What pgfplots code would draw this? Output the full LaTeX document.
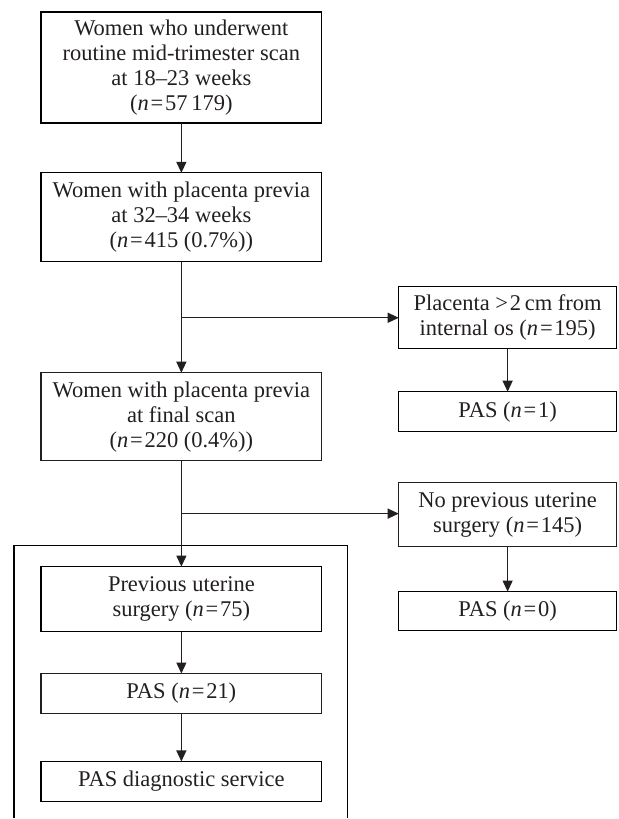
\documentclass[border=0pt]{standalone}
\usepackage{fontspec}
\setmainfont{Liberation Serif}
\usepackage{pgfplots}
\pgfplotsset{compat=1.18}
\usetikzlibrary{arrows.meta}
\definecolor{ink}{HTML}{231F20}
\newcommand{\nn}{\textit{n}\hspace{0.08em}=\hspace{0.08em}}
\tikzset{
  arr/.style={-{Triangle[length=11pt,width=10pt]}},
  txt/.style={font=\fontsize{22.5}{25}\selectfont, align=center, text=ink, inner sep=0pt},
}
\begin{document}
\begin{tikzpicture}
\begin{axis}[
  hide axis, scale only axis, width=619pt, height=819pt,
  xmin=0, xmax=619, ymin=0, ymax=819, y dir=reverse, clip=false,
  cycle list={{draw=ink, solid, mark=none}},
  every axis plot/.append style={line width=1.2pt, line join=miter},
]
\addplot[draw=none] coordinates {(0,0) (619,819)};
% boxes
\addplot coordinates {(41,12) (322,12) (322,123) (41,123)} -- cycle;
\addplot coordinates {(41,173) (322,173) (322,262) (41,262)} -- cycle;
\addplot coordinates {(41,373) (322,373) (322,461) (41,461)} -- cycle;
\addplot coordinates {(399,287) (617,287) (617,349) (399,349)} -- cycle;
\addplot coordinates {(399,392) (617,392) (617,432) (399,432)} -- cycle;
\addplot coordinates {(399,483) (617,483) (617,547) (399,547)} -- cycle;
\addplot coordinates {(399,592) (617,592) (617,631) (399,631)} -- cycle;
\addplot coordinates {(41,567) (322,567) (322,632) (41,632)} -- cycle;
\addplot coordinates {(41,674) (322,674) (322,714) (41,714)} -- cycle;
\addplot coordinates {(41,762) (322,762) (322,802) (41,802)} -- cycle;
% enclosing frame (open at bottom)
\addplot coordinates {(14,819) (14,546) (348,546) (348,819)};
% arrows
\addplot[draw=ink, fill=ink, arr] coordinates {(181.5,123) (181.5,173)};
\addplot[draw=ink, fill=ink, arr] coordinates {(181.5,262) (181.5,373)};
\addplot[draw=ink, fill=ink, arr] coordinates {(181.5,318) (399,318)};
\addplot[draw=ink, fill=ink, arr] coordinates {(181.5,461) (181.5,567)};
\addplot[draw=ink, fill=ink, arr] coordinates {(181.5,514) (399,514)};
\addplot[draw=ink, fill=ink, arr] coordinates {(508,349) (508,392)};
\addplot[draw=ink, fill=ink, arr] coordinates {(508,547) (508,592)};
\addplot[draw=ink, fill=ink, arr] coordinates {(181.5,632) (181.5,674)};
\addplot[draw=ink, fill=ink, arr] coordinates {(181.5,714) (181.5,762)};
% texts
\node[txt] at (axis cs:181.5,67.5) {Women who underwent\\routine mid-trimester scan\\at 18--23 weeks\\(\nn57\,179)};
\node[txt] at (axis cs:181.5,217.5) {Women with placenta previa\\at 32--34 weeks\\(\nn415 (0.7\%))};
\node[txt] at (axis cs:181.5,417) {Women with placenta previa\\at final scan\\(\nn220 (0.4\%))};
\node[txt] at (axis cs:508,318) {Placenta >\hspace{0.08em}2\,cm from\\internal os (\nn195)};
\node[txt] at (axis cs:508,412) {PAS (\nn1)};
\node[txt] at (axis cs:508,515) {No previous uterine\\surgery (\nn145)};
\node[txt] at (axis cs:508,611.5) {PAS (\nn0)};
\node[txt] at (axis cs:181.5,599.5) {Previous uterine\\surgery (\nn75)};
\node[txt] at (axis cs:181.5,694) {PAS (\nn21)};
\node[txt] at (axis cs:181.5,782) {PAS diagnostic service};
\end{axis}
\end{tikzpicture}
\end{document}
